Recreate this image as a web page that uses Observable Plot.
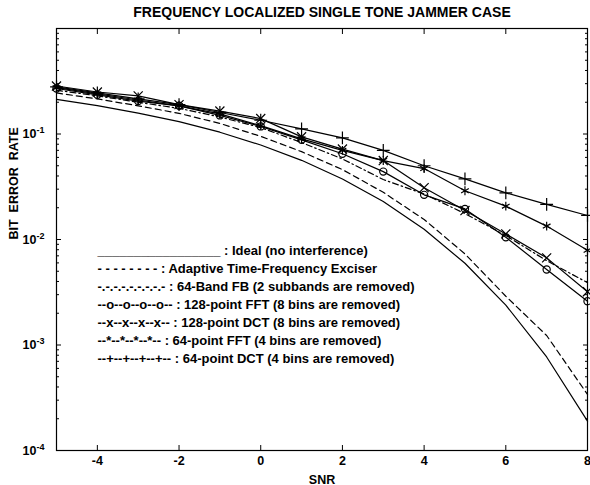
<!DOCTYPE html>
<html>
<head>
<meta charset="utf-8">
<script src="https://cdn.jsdelivr.net/npm/d3@7"></script>
<script src="https://cdn.jsdelivr.net/npm/@observablehq/plot@0.6"></script>
<style>
  html, body { margin: 0; padding: 0; background: #fff; }
  svg { display: block; }
</style>
</head>
<body>
<div id="chart"></div>
<script>
// SNR (dB) sample points
const snr = [-5, -4, -3, -2, -1, 0, 1, 2, 3, 4, 5, 6, 7, 8];

// Bit error rate of each receiver
const berIdeal    = [0.213, 0.186, 0.158, 0.131, 0.104, 0.0786, 0.0563, 0.0375, 0.0229, 0.0125, 0.00595, 0.00239, 0.00077, 0.00019];
const berExciser  = [0.245, 0.215, 0.185, 0.157, 0.126, 0.095, 0.068, 0.046, 0.028, 0.0155, 0.0073, 0.0029, 0.00123, 0.00034];
const berBandFB   = [0.26, 0.23, 0.2, 0.175, 0.145, 0.115, 0.083, 0.058, 0.037, 0.027, 0.0176, 0.0109, 0.0063, 0.0039];
const berFFT128   = [0.27, 0.235, 0.205, 0.185, 0.15, 0.118, 0.088, 0.065, 0.044, 0.0265, 0.0195, 0.0105, 0.0052, 0.0026];
const berDCT128   = [0.285, 0.25, 0.23, 0.19, 0.165, 0.14, 0.094, 0.072, 0.056, 0.031, 0.0188, 0.0113, 0.0067, 0.0032];
const berFFT64    = [0.275, 0.24, 0.21, 0.185, 0.155, 0.12, 0.09, 0.07, 0.056, 0.047, 0.029, 0.0207, 0.0134, 0.0079];
const berDCT64    = [0.28, 0.245, 0.215, 0.19, 0.16, 0.135, 0.112, 0.092, 0.07, 0.05, 0.0376, 0.0277, 0.0215, 0.0169];

// Axis ticks
const xTicks = [-4, -2, 0, 2, 4, 6, 8];
const yMajorTicks = [1e-4, 1e-3, 1e-2, 1e-1];
const yTickExponents = ["-4", "-3", "-2", "-1"];

// Legend rows (drawn as text inside the axes)
const legendRows = [
  "_________________ : Ideal (no interference)",
  "- - - - - - - - : Adaptive Time-Frequency Exciser",
  "-.-.-.-.-.-.-.-.- : 64-Band FB (2 subbands are removed)",
  "--o--o--o--o-- : 128-point FFT (8 bins are removed)",
  "--x--x--x--x-- : 128-point DCT (8 bins are removed)",
  "--*--*--*--*-- : 64-point FFT (4 bins are removed)",
  "--+--+--+--+-- : 64-point DCT (4 bins are removed)"
];

const titleText = "FREQUENCY LOCALIZED SINGLE TONE JAMMER CASE";
const xLabel = "SNR";
const yLabel = "BIT\u00a0\u00a0ERROR\u00a0\u00a0RATE";

const font = "'Liberation Sans', Arial, Helvetica, sans-serif";

const table = (values) => snr.map((x, i) => ({x, y: values[i]}));

const yMinorTicks = [];
for (const decade of [1e-4, 1e-3, 1e-2, 1e-1]) {
  for (let m = 2; m <= 9; ++m) yMinorTicks.push(m * decade);
}

const curves = [
  {values: berIdeal, dash: null, symbol: null},
  {values: berExciser, dash: "6,4", symbol: null},
  {values: berBandFB, dash: "6,3,1.5,3", symbol: null},
  {values: berFFT128, dash: null, symbol: "circle"},
  {values: berDCT128, dash: null, symbol: "times"},
  {values: berFFT64, dash: null, symbol: "asterisk"},
  {values: berDCT64, dash: null, symbol: "plus"}
];

const marks = [];
for (const c of curves) {
  marks.push(Plot.line(table(c.values), {
    x: "x", y: "y", stroke: "black", strokeWidth: 1.2,
    strokeDasharray: c.dash ?? undefined
  }));
  if (c.symbol) {
    marks.push(Plot.dot(table(c.values), {
      x: "x", y: "y", symbol: c.symbol, r: c.symbol === "circle" ? 3.6 : 4.2,
      stroke: "black", fill: "none", strokeWidth: 1.2
    }));
  }
}

legendRows.forEach((row, i) => {
  marks.push(Plot.text([row], {
    frameAnchor: "top-left", textAnchor: "start", lineAnchor: "middle",
    dx: 41, dy: 222 + 18 * i,
    fontSize: 13, fontWeight: "bold", fontFamily: font, fill: "black"
  }));
});

const chart = Plot.plot({
  width: 590,
  height: 485,
  marginLeft: 56,
  marginRight: 3,
  marginTop: 28,
  marginBottom: 35,
  style: {fontFamily: font, background: "white", color: "black"},
  x: {domain: [-5, 8], axis: null},
  y: {type: "log", domain: [1e-4, 1], axis: null},
  marks: [
    ...marks,
    // inward major/minor ticks on all four sides
    Plot.axisX({anchor: "bottom", ticks: xTicks, tickSize: -5, tickPadding: 11,
      tickFormat: (d) => String(d), fontSize: 12.5, fontWeight: "bold", fontFamily: font, label: null}),
    Plot.axisX({anchor: "top", ticks: xTicks, tickSize: -5, tickFormat: () => "", label: null}),
    Plot.axisY({anchor: "left", ticks: yMajorTicks, tickSize: -5, tickPadding: 17,
      tickFormat: (d) => "10^" + yTickExponents[yMajorTicks.indexOf(d)],
      fontSize: 12.5, fontWeight: "bold", fontFamily: font, label: null}),
    Plot.axisY({anchor: "left", ticks: yMinorTicks, tickSize: -3, tickFormat: () => "", label: null}),
    Plot.axisY({anchor: "right", ticks: yMajorTicks, tickSize: -5, tickFormat: () => "", label: null}),
    Plot.axisY({anchor: "right", ticks: yMinorTicks, tickSize: -3, tickFormat: () => "", label: null}),
    Plot.frame({stroke: "black", strokeWidth: 1.2}),
    Plot.text([titleText], {frameAnchor: "top", dy: -21, fontSize: 14, fontWeight: "bold", fontFamily: font}),
    Plot.text([xLabel], {frameAnchor: "bottom", dy: 33, fontSize: 12.5, fontWeight: "bold", fontFamily: font}),
    Plot.text([yLabel], {frameAnchor: "left", dx: -43, rotate: -90, fontSize: 12.5, fontWeight: "bold", fontFamily: font})
  ]
});

// Render the decade labels as 10 with a raised exponent
d3.select(chart).selectAll('g[aria-label="y-axis tick label"] text').each(function () {
  const label = d3.select(this);
  const [base, exponent] = label.text().split("^");
  label.text(base);
  label.append("tspan").attr("dy", "-0.55em").attr("font-size", "0.72em").text(exponent);
});

document.getElementById("chart").appendChild(chart);
</script>
</body>
</html>
